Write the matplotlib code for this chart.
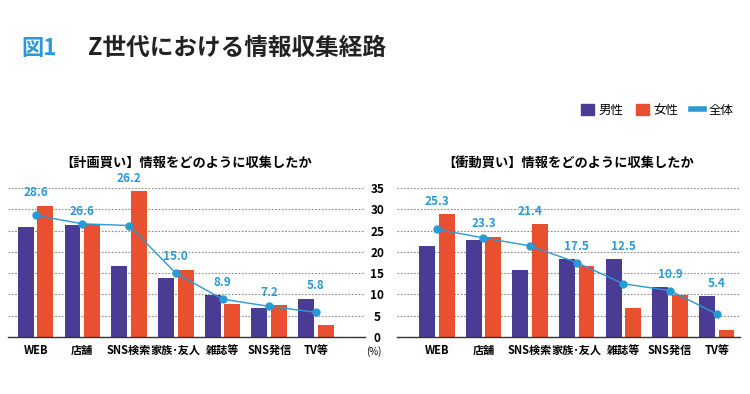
import matplotlib.pyplot as plt
import numpy as np
from matplotlib.patches import Rectangle
from matplotlib.lines import Line2D

plt.rcParams['font.family'] = ['Noto Sans CJK JP', 'DejaVu Sans']

categories = ["WEB", "店舗", "SNS検索", "家族･友人", "雑誌等", "SNS発信", "TV等"]

# 計画買い
plan_male = [25.8, 26.4, 16.7, 13.8, 9.9, 6.7, 9.0]
plan_female = [30.9, 26.6, 34.2, 15.8, 7.8, 7.5, 2.8]
plan_all = [28.6, 26.6, 26.2, 15.0, 8.9, 7.2, 5.8]

# 衝動買い
imp_male = [21.4, 22.9, 15.8, 18.3, 18.3, 11.8, 9.6]
imp_female = [28.9, 23.6, 26.6, 16.8, 6.8, 9.9, 1.6]
imp_all = [25.3, 23.3, 21.4, 17.5, 12.5, 10.9, 5.4]

yticks = [0, 5, 10, 15, 20, 25, 30, 35]

c_male = "#4a3b94"
c_female = "#e8502f"
c_line = "#2a9ad5"

fig = plt.figure(figsize=(7.5, 3.94), dpi=100)

ax1 = fig.add_axes([0.0107, 0.1447, 0.476, 0.378])
ax2 = fig.add_axes([0.529, 0.1447, 0.457, 0.378])


def draw(ax, male, female, total, title, xlim):
    x = np.arange(len(categories))
    w = 0.34
    ax.bar(x - 0.21, male, w, color=c_male, zorder=2)
    ax.bar(x + 0.21, female, w, color=c_female, zorder=2)
    ax.plot(x, total, color=c_line, lw=1.0, marker="o", ms=5, zorder=3)
    for i, v in enumerate(total):
        top = max(male[i], female[i], v)
        ax.text(x[i], top + 3, f"{v:.1f}", ha="center", va="center",
                color=c_line, fontsize=8.5, fontweight="bold", clip_on=False)
    ax.set_ylim(0, 35)
    ax.set_xlim(*xlim)
    ax.set_yticks(yticks)
    ax.grid(axis="y", linestyle=(0, (1.5, 1.5)), color="#888888", lw=0.8, zorder=0)
    for s in ["top", "right", "left"]:
        ax.spines[s].set_visible(False)
    ax.spines["bottom"].set_color("#333333")
    ax.spines["bottom"].set_linewidth(1.0)
    ax.set_xticks(x)
    ax.set_xticklabels(categories, fontsize=8, fontweight="bold")
    ax.tick_params(axis="x", length=0, pad=5)
    ax.set_title(title, fontsize=9.5, fontweight="bold", pad=15)


draw(ax1, plan_male, plan_female, plan_all,
     "【計画買い】情報をどのように収集したか", (-0.59, 7.05))
ax1.tick_params(axis="y", length=0, labelleft=False)

draw(ax2, imp_male, imp_female, imp_all,
     "【衝動買い】情報をどのように収集したか", (-0.86, 6.49))
ax2.tick_params(axis="y", length=0, pad=14)
for lbl in ax2.get_yticklabels():
    lbl.set_fontsize(8.5)
    lbl.set_fontweight("bold")
    lbl.set_horizontalalignment("center")
fig.text(0.4987, 0.109, "(%)", ha="center", va="center", fontsize=7)

# title
fig.text(0.029, 0.878, "図1", color=c_line, fontsize=16, fontweight="bold",
         va="center", ha="left")
fig.text(0.117, 0.878, "Z世代における情報収集経路", color="#222222",
         fontsize=17, fontweight="bold", va="center", ha="left")

# legend
handles = [Rectangle((0, 0), 1, 1, color=c_male),
           Rectangle((0, 0), 1, 1, color=c_female),
           Line2D([0], [0], color=c_line, lw=4)]
fig.legend(handles, ["男性", "女性", "全体"], loc="center right",
           bbox_to_anchor=(0.993, 0.72), ncol=3, frameon=False,
           fontsize=9, handlelength=1.0, handleheight=1.0,
           columnspacing=1.0, handletextpad=0.4)

fig.savefig("out.png", dpi=100)
